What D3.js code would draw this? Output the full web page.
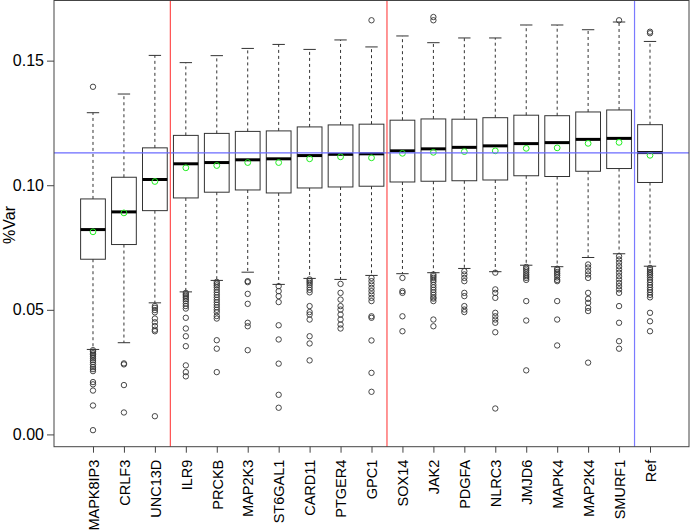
<!DOCTYPE html>
<html><head><meta charset="utf-8">
<script src="https://cdn.jsdelivr.net/npm/d3@7/dist/d3.min.js"></script>
<style>body{margin:0;background:#fff}svg{display:block}text{font-family:"Liberation Sans",Arial,Helvetica,sans-serif;fill:#000}</style>
</head><body><svg id="c" width="690" height="531"></svg>
<script>
const categories = ["MAPK8IP3","CRLF3","UNC13D","ILR9","PRCKB","MAP2K3","ST6GAL1","CARD11","PTGER4","GPC1","SOX14","JAK2","PDGFA","NLRC3","JMJD6","MAPK4","MAP2K4","SMURF1","Ref"];
const whiskerHigh = [0.1291,0.1366,0.1521,0.1492,0.1520,0.1549,0.1565,0.1545,0.1583,0.1555,0.1599,0.1572,0.1591,0.1591,0.1643,0.1643,0.1624,0.1655,0.1577];
const q3 =          [0.0945,0.1032,0.1150,0.1200,0.1208,0.1216,0.1218,0.1234,0.1242,0.1245,0.1261,0.1266,0.1265,0.1271,0.1281,0.1279,0.1294,0.1302,0.1243];
const medians =     [0.0822,0.0893,0.1023,0.1086,0.1091,0.1102,0.1106,0.1119,0.1124,0.1126,0.1138,0.1146,0.1152,0.1158,0.1167,0.1171,0.1184,0.1188,0.1131];
const means =       [0.0813,0.0889,0.1015,0.1070,0.1079,0.1091,0.1091,0.1106,0.1114,0.1110,0.1128,0.1132,0.1135,0.1138,0.1148,0.1150,0.1168,0.1172,0.1120];
const q1 =          [0.0703,0.0762,0.0898,0.0949,0.0972,0.0981,0.0969,0.0989,0.0993,0.0996,0.1013,0.1016,0.1018,0.1021,0.1038,0.1035,0.1056,0.1067,0.1011];
const whiskerLow =  [0.0341,0.0368,0.0528,0.0572,0.0618,0.0651,0.0602,0.0626,0.0622,0.0638,0.0645,0.0649,0.0666,0.0653,0.0679,0.0673,0.0710,0.0725,0.0675];
const outliers = [
  [0.1395,0.0338,0.0332,0.0326,0.0320,0.0314,0.0306,0.0298,0.0290,0.0280,0.0270,0.0262,0.0254,0.0210,0.0201,0.0176,0.0116,0.0017],
  [0.0285,0.0281,0.0198,0.0088],
  [0.0515,0.0508,0.0499,0.0490,0.0465,0.0450,0.0435,0.0420,0.0414,0.0073],
  [0.0568,0.0562,0.0556,0.0550,0.0543,0.0535,0.0525,0.0515,0.0505,0.0468,0.0425,0.0394,0.0354,0.0277,0.0250,0.0233],
  [0.0612,0.0605,0.0598,0.0590,0.0580,0.0570,0.0560,0.0550,0.0540,0.0530,0.0520,0.0510,0.0500,0.0490,0.0475,0.0465,0.0378,0.0344,0.0250],
  [0.0615,0.0611,0.0564,0.0524,0.0448,0.0434,0.0338],
  [0.0595,0.0575,0.0555,0.0531,0.0438,0.0381,0.0284,0.0159,0.0107],
  [0.0622,0.0615,0.0608,0.0600,0.0590,0.0580,0.0570,0.0515,0.0491,0.0481,0.0461,0.0394,0.0365,0.0297],
  [0.0604,0.0568,0.0541,0.0515,0.0501,0.0481,0.0461,0.0441,0.0425],
  [0.1662,0.0628,0.0615,0.0602,0.0588,0.0575,0.0562,0.0548,0.0535,0.0474,0.0468,0.0377,0.0247,0.0171],
  [0.0628,0.0575,0.0568,0.0474,0.0414],
  [0.1675,0.1662,0.0642,0.0635,0.0628,0.0620,0.0612,0.0600,0.0590,0.0580,0.0570,0.0560,0.0550,0.0545,0.0535,0.0461,0.0434],
  [0.0655,0.0642,0.0628,0.0615,0.0568,0.0555,0.0515,0.0501,0.0491],
  [0.0649,0.0582,0.0568,0.0548,0.0488,0.0474,0.0461,0.0448,0.0410,0.0104],
  [0.0672,0.0665,0.0658,0.0650,0.0642,0.0635,0.0628,0.0620,0.0535,0.0457,0.0257],
  [0.0665,0.0660,0.0652,0.0645,0.0638,0.0630,0.0620,0.0615,0.0535,0.0461,0.0357],
  [0.0682,0.0670,0.0655,0.0642,0.0628,0.0568,0.0544,0.0528,0.0508,0.0495,0.0288],
  [0.1662,0.0715,0.0702,0.0689,0.0675,0.0662,0.0649,0.0635,0.0622,0.0608,0.0595,0.0582,0.0568,0.0515,0.0448,0.0374,0.0344],
  [0.1616,0.1610,0.0668,0.0660,0.0652,0.0645,0.0638,0.0630,0.0620,0.0610,0.0600,0.0590,0.0580,0.0570,0.0560,0.0550,0.0488,0.0454,0.0414]
];
const yTicks = [0.00,0.05,0.10,0.15];
const refLineY = 0.113;
const redSeparators = [3.5,10.5];
const blueSeparators = [18.5];
const yLabel = "%Var";

const svg = d3.select("#c");
const L = 54, R = 689, T = 0.5, B = 446.7;
const n = categories.length;
const x = d3.scaleLinear().domain([0.5 - 0.04*n, n + 0.5 + 0.04*n]).range([L, R]);
const allVals = whiskerHigh.concat(whiskerLow, outliers.flat());
const [mn, mx] = d3.extent(allVals);
const pad = (mx - mn) * 0.04;
const y = d3.scaleLinear().domain([mn - pad, mx + pad]).range([B, T]);
const bw = x(0.8) - x(0);
const cap = bw / 2;
const ink = "#333";

const g = svg.append("g");
categories.forEach((c, i) => {
  const cx = x(i + 1);
  g.append("line").attr("x1", cx).attr("x2", cx).attr("y1", y(q3[i])).attr("y2", y(whiskerHigh[i]))
    .attr("stroke", ink).attr("stroke-dasharray", "3,3");
  g.append("line").attr("x1", cx).attr("x2", cx).attr("y1", y(q1[i])).attr("y2", y(whiskerLow[i]))
    .attr("stroke", ink).attr("stroke-dasharray", "3,3");
  [whiskerHigh[i], whiskerLow[i]].forEach(v => {
    g.append("line").attr("x1", cx - cap/2).attr("x2", cx + cap/2).attr("y1", y(v)).attr("y2", y(v)).attr("stroke", ink);
  });
  g.append("rect").attr("x", cx - bw/2).attr("width", bw).attr("y", y(q3[i])).attr("height", y(q1[i]) - y(q3[i]))
    .attr("fill", "none").attr("stroke", ink);
  g.append("line").attr("x1", cx - bw/2).attr("x2", cx + bw/2).attr("y1", y(medians[i])).attr("y2", y(medians[i]))
    .attr("stroke", "#000").attr("stroke-width", 3);
  g.selectAll(null).data(outliers[i]).enter().append("circle")
    .attr("cx", cx).attr("cy", d => y(d)).attr("r", 2.7)
    .attr("fill", "none").attr("stroke", ink).attr("stroke-width", 0.9);
  g.append("circle").attr("cx", cx).attr("cy", y(means[i])).attr("r", 2.9)
    .attr("fill", "none").attr("stroke", "#22ee22").attr("stroke-width", 1);
});

svg.append("line").attr("x1", L).attr("x2", R).attr("y1", y(refLineY)).attr("y2", y(refLineY))
  .attr("stroke", "#6b6bff").attr("stroke-width", 1.2);
redSeparators.forEach(v => svg.append("line").attr("x1", x(v)).attr("x2", x(v)).attr("y1", T).attr("y2", B)
  .attr("stroke", "#ff4f4f").attr("stroke-width", 1.2));
blueSeparators.forEach(v => svg.append("line").attr("x1", x(v)).attr("x2", x(v)).attr("y1", T).attr("y2", B)
  .attr("stroke", "#7a7aff").attr("stroke-width", 1.2));

svg.append("rect").attr("x", L).attr("y", T).attr("width", R - L).attr("height", B - T)
  .attr("fill", "none").attr("stroke", "#444").attr("stroke-width", 1);

const ya = svg.append("g").attr("transform", `translate(${L},0)`)
  .call(d3.axisLeft(y).tickValues(yTicks).tickFormat(d3.format(".2f")).tickSize(7).tickPadding(3));
ya.select(".domain").remove();
ya.selectAll(".tick line").attr("stroke", "#444");
ya.selectAll("text").style("font-size", "16px");

const xa = svg.append("g").attr("transform", `translate(0,${B})`)
  .call(d3.axisBottom(x).tickValues(d3.range(1, n + 1)).tickFormat(d => categories[d - 1]).tickSize(6));
xa.select(".domain").remove();
xa.selectAll(".tick line").attr("stroke", "#444");
xa.selectAll("text").style("font-size", "14.5px")
  .attr("transform", "rotate(-90)").attr("text-anchor", "end")
  .attr("x", -13).attr("y", 0).attr("dy", "0.36em");

svg.append("text").attr("transform", `translate(15,225) rotate(-90)`).attr("text-anchor", "middle")
  .style("font-size", "16px").text(yLabel);
</script></body></html>
